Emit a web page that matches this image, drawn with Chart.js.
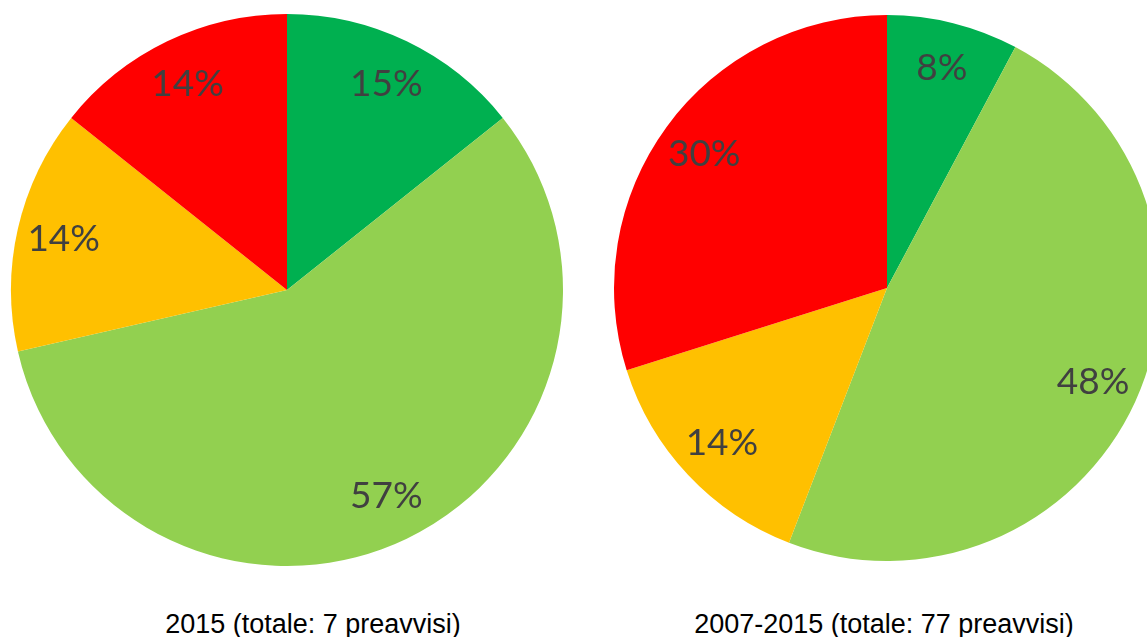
<!DOCTYPE html>
<html>
<head>
<meta charset="utf-8">
<script src="https://cdn.jsdelivr.net/npm/chart.js@4"></script>
<style>
  html, body { margin: 0; padding: 0; background: #fff; overflow: hidden; width: 1147px; height: 637px; }
  .box { position: absolute; }
  .title { position: absolute; font-family: "Liberation Sans", Arial, sans-serif; font-size: 27px; color: #000; text-align: center; white-space: nowrap; }
</style>
</head>
<body>
<div class="box" id="leftBox" style="left:0px; top:14px; width:574px; height:552px;"><canvas id="pie2015"></canvas></div>
<div class="box" id="rightBox" style="left:613px; top:15px; width:548px; height:546px;"><canvas id="pieAll"></canvas></div>
<div class="title" style="left:113px; top:609px; width:400px;">2015 (totale: 7 preavvisi)</div>
<div class="title" style="left:684px; top:609px; width:400px;">2007-2015 (totale: 77 preavvisi)</div>
<script>
const categories = ["Verde", "Verde chiaro", "Arancione", "Rosso"];
// number of preavvisi per colour
const counts2015 = [1, 4, 1, 1];
const countsAll = [6, 37, 11, 23];
// percentages as printed on the slices
const labels2015 = ["15%", "57%", "14%", "14%"];
const labelsAll = ["8%", "48%", "14%", "30%"];
const sliceColors = ["#00B050", "#92D050", "#FFC000", "#FF0000"];

// draws the percentage labels inside each slice
const sliceLabels = {
  id: "sliceLabels",
  afterDatasetsDraw(chart) {
    const ctx = chart.ctx;
    const texts = chart.data.datasets[0].pctLabels;
    chart.getDatasetMeta(0).data.forEach(function (arc, i) {
      const mid = (arc.startAngle + arc.endAngle) / 2;
      const r = arc.outerRadius * 0.83;
      const x = arc.x + Math.cos(mid) * r;
      const y = arc.y + Math.sin(mid) * r;
      ctx.save();
      ctx.font = "37px Lato, 'Open Sans', sans-serif";
      ctx.fillStyle = "#404040";
      ctx.textAlign = "center";
      ctx.textBaseline = "middle";
      ctx.fillText(texts[i], x, y);
      ctx.restore();
    });
  }
};

function makePie(id, values, pctLabels) {
  const ctx = document.getElementById(id).getContext("2d");
  return new Chart(ctx, {
    type: "pie",
    data: {
      labels: categories,
      datasets: [{
        data: values,
        pctLabels: pctLabels,
        backgroundColor: sliceColors,
        borderWidth: 0
      }]
    },
    options: {
      responsive: true,
      maintainAspectRatio: false,
      animation: false,
      layout: { padding: 0 },
      plugins: { legend: { display: false }, tooltip: { enabled: false } }
    },
    plugins: [sliceLabels]
  });
}

makePie("pie2015", counts2015, labels2015);
makePie("pieAll", countsAll, labelsAll);
</script>
</body>
</html>
